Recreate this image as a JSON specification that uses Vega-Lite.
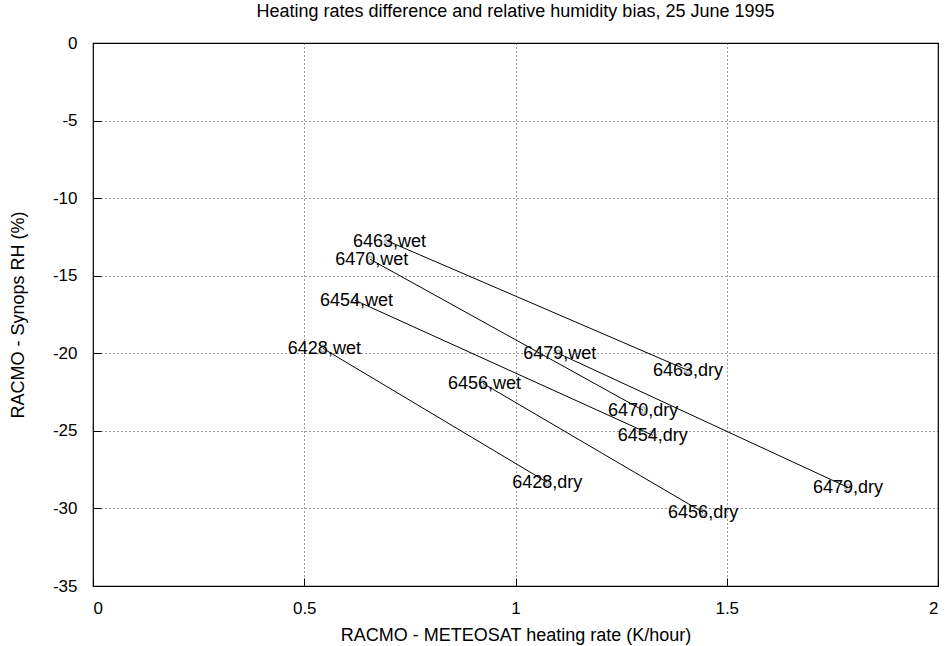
{
  "$schema": "https://vega.github.io/schema/vega-lite/v6.json",
  "width": 845,
  "height": 543,
  "autosize": {"type": "none"},
  "padding": {"left": 93, "top": 43, "right": 11, "bottom": 60},
  "background": "white",
  "config": {
    "font": "Liberation Sans",
    "view": {"stroke": "black", "strokeWidth": 1.2},
    "axis": {
      "domain": false,
      "grid": true,
      "gridColor": "black",
      "gridDash": [1, 3],
      "gridWidth": 1,
      "gridOpacity": 0.8,
      "tickColor": "black",
      "tickSize": -8,
      "tickWidth": 1,
      "labelFont": "Liberation Sans",
      "labelFontSize": 17,
      "labelColor": "black",
      "titleFont": "Liberation Sans",
      "titleFontSize": 18,
      "titleFontWeight": "normal",
      "titleColor": "black"
    }
  },
  "title": {
    "text": "Heating rates difference and relative humidity bias, 25 June 1995",
    "font": "Liberation Sans",
    "fontSize": 18,
    "fontWeight": "normal",
    "color": "black",
    "anchor": "middle",
    "frame": "group",
    "offset": 13
  },
  "data": {
    "values": [
      {"station": "6463", "state": "wet", "order": 1, "x": 0.698, "y": -12.77, "label": "6463,wet"},
      {"station": "6463", "state": "dry", "order": 2, "x": 1.408, "y": -21.10, "label": "6463,dry"},
      {"station": "6470", "state": "wet", "order": 1, "x": 0.656, "y": -13.94, "label": "6470,wet"},
      {"station": "6470", "state": "dry", "order": 2, "x": 1.302, "y": -23.68, "label": "6470,dry"},
      {"station": "6454", "state": "wet", "order": 1, "x": 0.620, "y": -16.58, "label": "6454,wet"},
      {"station": "6454", "state": "dry", "order": 2, "x": 1.325, "y": -25.29, "label": "6454,dry"},
      {"station": "6428", "state": "wet", "order": 1, "x": 0.544, "y": -19.68, "label": "6428,wet"},
      {"station": "6428", "state": "dry", "order": 2, "x": 1.075, "y": -28.32, "label": "6428,dry"},
      {"station": "6456", "state": "wet", "order": 1, "x": 0.923, "y": -21.94, "label": "6456,wet"},
      {"station": "6456", "state": "dry", "order": 2, "x": 1.444, "y": -30.26, "label": "6456,dry"},
      {"station": "6479", "state": "wet", "order": 1, "x": 1.101, "y": -20.00, "label": "6479,wet"},
      {"station": "6479", "state": "dry", "order": 2, "x": 1.787, "y": -28.65, "label": "6479,dry"}
    ]
  },
  "encoding": {
    "x": {
      "field": "x",
      "type": "quantitative",
      "scale": {"domain": [0, 2], "nice": false, "zero": false},
      "axis": {"values": [0, 0.5, 1, 1.5, 2], "format": "~g", "labelPadding": 22, "title": "RACMO - METEOSAT heating rate (K/hour)", "titlePadding": 10}
    },
    "y": {
      "field": "y",
      "type": "quantitative",
      "scale": {"domain": [-35, 0], "nice": false, "zero": false},
      "axis": {"values": [0, -5, -10, -15, -20, -25, -30, -35], "labelExpr": "datum.value < 0 ? '-' + abs(datum.value) : '' + datum.value", "labelPadding": 24, "title": "RACMO - Synops RH (%)", "titlePadding": 25}
    }
  },
  "layer": [
    {
      "mark": {"type": "line", "color": "black", "strokeWidth": 1},
      "encoding": {
        "detail": {"field": "station"},
        "order": {"field": "order", "type": "quantitative"}
      }
    },
    {
      "mark": {"type": "point", "shape": "cross", "size": 40, "color": "#9a9a9a", "filled": false, "strokeWidth": 1, "opacity": 0.8}
    },
    {
      "mark": {"type": "text", "align": "left", "baseline": "middle", "dx": -35, "dy": 1, "fontSize": 18, "color": "black", "font": "Liberation Sans"},
      "encoding": {"text": {"field": "label"}}
    }
  ]
}
